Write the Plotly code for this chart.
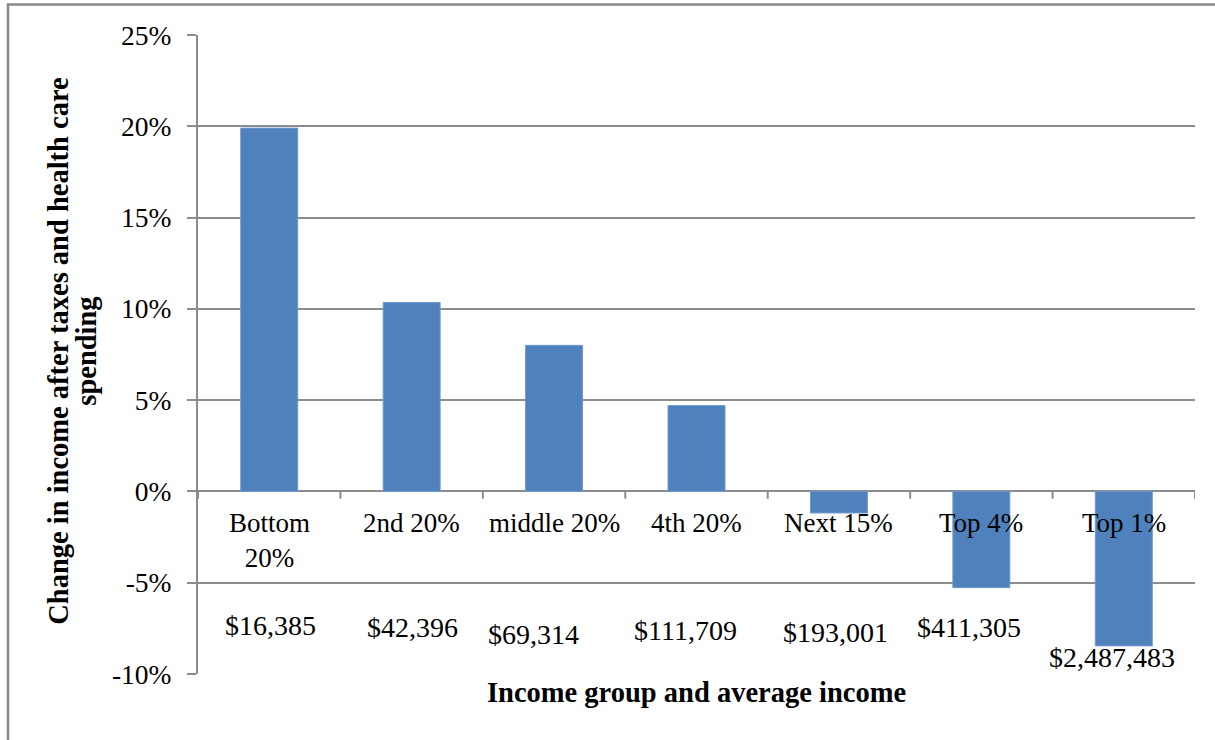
import plotly.graph_objects as go

categories = ["Bottom<br>20%", "2nd 20%", "middle 20%", "4th 20%", "Next 15%", "Top 4%", "Top 1%"]
change_pct = [19.9, 10.35, 8.0, 4.7, -1.18, -5.27, -8.46]
avg_income = ["$16,385", "$42,396", "$69,314", "$111,709", "$193,001", "$411,305", "$2,487,483"]
income_label_y = [-7.36, -7.44, -7.82, -7.64, -7.71, -7.44, -9.07]
income_label_dx = [1, 1, -21, -11, -3, -12, -12]
tick_vals = [-10, -5, 0, 5, 10, 15, 20, 25]
tick_text = ["-10%", "-5%", "0%", "5%", "10%", "15%", "20%", "25%"]

SERIF = "Liberation Serif, Times New Roman, serif"
GRID = "#8c8c8c"
idx = list(range(len(categories)))

fig = go.Figure()
fig.add_trace(go.Bar(
    x=idx, y=change_pct,
    marker=dict(color="#4F81BD", line=dict(color="#7199cc", width=1)),
    width=0.4, showlegend=False, hoverinfo="skip",
))

annotations = []
for i, c in enumerate(categories):
    annotations.append(dict(
        x=i, y=0, xref="x", yref="y", text=c, showarrow=False,
        yanchor="top", yshift=-15, align="center",
        font=dict(family=SERIF, size=27, color="black"),
    ))
for i, t in enumerate(avg_income):
    annotations.append(dict(
        x=i, y=income_label_y[i], xref="x", yref="y", text=t, showarrow=False,
        xshift=income_label_dx[i], yanchor="middle",
        font=dict(family=SERIF, size=28, color="black"),
    ))
annotations.append(dict(
    x=0.5, y=-0.0297, xref="paper", yref="paper", yanchor="middle",
    text="<b>Income group and average income</b>", showarrow=False,
    font=dict(family=SERIF, size=28.5, color="black"),
))
annotations.append(dict(
    x=-0.1395, y=0.5057, xref="paper", yref="paper", xanchor="center", yanchor="middle",
    text="<b>Change in income after taxes and health care</b>", showarrow=False,
    textangle=-90, font=dict(family=SERIF, size=28.5, color="black"),
))
annotations.append(dict(
    x=-0.1115, y=0.5057, xref="paper", yref="paper", xanchor="center", yanchor="middle",
    text="<b>spending</b>", showarrow=False,
    textangle=-90, font=dict(family=SERIF, size=28.5, color="black"),
))

shapes = []
# category boundary tick marks on the zero line
for b in range(len(categories) + 1):
    shapes.append(dict(type="line", xref="x", yref="y", x0=b - 0.5, x1=b - 0.5,
                       y0=0, y1=-0.4, line=dict(color=GRID, width=2)))
# outer chart border
shapes.append(dict(type="rect", xref="paper", yref="paper",
                   x0=(8 - 198) / 997, x1=(1225 - 198) / 997,
                   y0=(674 - 750) / 639, y1=(674 - 4.5) / 639,
                   line=dict(color="#888888", width=2.5), layer="below"))

fig.update_layout(
    width=1215, height=740,
    margin=dict(l=198, r=20, t=35, b=66),
    plot_bgcolor="white", paper_bgcolor="white",
    bargap=0.6,
    annotations=annotations, shapes=shapes,
    xaxis=dict(range=[-0.5, 6.5], showticklabels=False, showgrid=False,
               zeroline=False, showline=False, ticks=""),
    yaxis=dict(range=[-10, 25], tickvals=tick_vals, ticktext=tick_text,
               showgrid=True, gridcolor=GRID, gridwidth=2,
               zeroline=True, zerolinecolor=GRID, zerolinewidth=2,
               showline=True, linecolor=GRID, linewidth=2,
               ticks="outside", ticklen=9, tickwidth=2, tickcolor=GRID,
               ticklabelstandoff=10,
               tickfont=dict(family=SERIF, size=27.5, color="black")),
)

fig.write_html("out.html")
